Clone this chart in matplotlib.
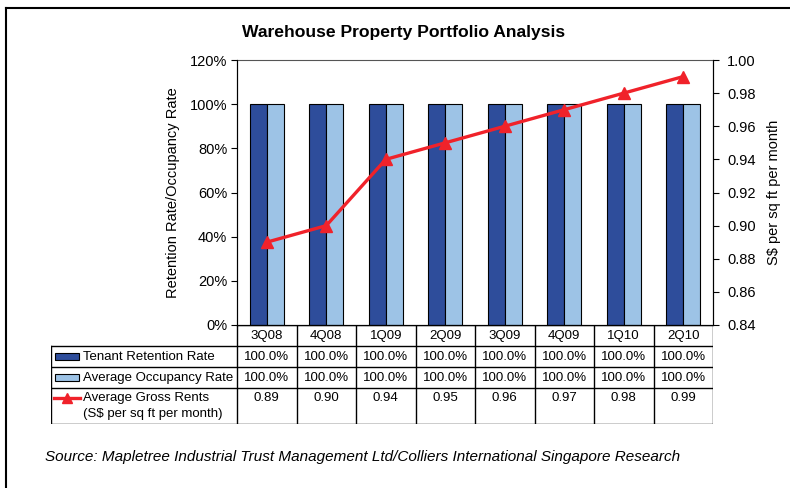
import numpy as np
import matplotlib.pyplot as plt
from matplotlib.lines import Line2D
from matplotlib.patches import Rectangle

plt.rcParams['font.family'] = ['Liberation Sans', 'DejaVu Sans']

quarters = ['3Q08', '4Q08', '1Q09', '2Q09', '3Q09', '4Q09', '1Q10', '2Q10']
retention = [100.0, 100.0, 100.0, 100.0, 100.0, 100.0, 100.0, 100.0]
occupancy = [100.0, 100.0, 100.0, 100.0, 100.0, 100.0, 100.0, 100.0]
rents = [0.89, 0.90, 0.94, 0.95, 0.96, 0.97, 0.98, 0.99]

dark_blue = '#2E4D9B'
light_blue = '#9DC3E6'
red = '#F0222A'

W, H = 790, 488
fig = plt.figure(figsize=(W / 100, H / 100), dpi=100)


def fx(px):
    return px / W


def fy(py):
    return 1 - py / H


# frame around the whole graphic
fig.add_artist(Line2D([fx(6), fx(6)], [fy(8), 0], color='black', lw=1.5))
fig.add_artist(Line2D([fx(6), 1], [fy(8), fy(8)], color='black', lw=1.5))

left, right, top, bottom = 237, 713, 60, 325
ax = fig.add_axes([fx(left), fy(bottom), fx(right - left), fy(top) - fy(bottom)])
x = np.arange(len(quarters))
bw = 0.285
ax.bar(x - bw / 2, retention, bw, color=dark_blue, edgecolor='black', lw=0.8)
ax.bar(x + bw / 2, occupancy, bw, color=light_blue, edgecolor='black', lw=0.8)
ax.set_xlim(-0.5, len(quarters) - 0.5)
ax.set_ylim(0, 120)
ax.set_yticks(np.arange(0, 121, 20))
ax.set_yticklabels([f'{v}%' for v in range(0, 121, 20)])
ax.set_xticks([])
ax.tick_params(axis='y', direction='out', length=4, labelsize=10.5, pad=3)
ax.set_ylabel('Retention Rate/Occupancy Rate', fontsize=10.5, labelpad=7)
for s in ['left', 'right', 'bottom']:
    ax.spines[s].set_color('black')
ax.spines['top'].set_color('#555555')

ax2 = ax.twinx()
ax2.plot(x, rents, color=red, lw=2.4, marker='^', markersize=8,
         markerfacecolor=red, markeredgecolor=red, zorder=5)
ax2.set_ylim(0.84, 1.00)
ax2.set_yticks(np.arange(0.84, 1.001, 0.02))
ax2.set_yticklabels([f'{v:.2f}' for v in np.arange(0.84, 1.001, 0.02)])
ax2.tick_params(axis='y', direction='out', length=4, labelsize=10.5, pad=6)
ax2.set_ylabel('S$ per sq ft per month', fontsize=10.5, labelpad=8)
ax2.spines['top'].set_visible(False)

fig.text(fx(404), fy(32), 'Warehouse Property Portfolio Analysis',
         ha='center', va='center', fontsize=12.6, fontweight='bold')

# data table under the plot
tleft, tbottom = 51, 424
rows_px = [325, 346, 367, 388, 424]
cw = (right - left) / len(quarters)
tab = fig.add_axes([fx(tleft), fy(tbottom), fx(right - tleft), fy(325) - fy(tbottom)])
tab.set_xlim(tleft, right)
tab.set_ylim(tbottom, 325)
tab.axis('off')
lk = dict(color='black', lw=1.0)
# horizontal rules
tab.plot([left, right], [325, 325], **lk)
for ry in rows_px[1:]:
    tab.plot([tleft, right], [ry, ry], **lk)
# vertical rules
tab.plot([tleft, tleft], [346, 424], **lk)
for k in range(len(quarters) + 1):
    xx = left + k * cw
    tab.plot([xx, xx], [325, 424], **lk)

fs = 9.5
for k, q in enumerate(quarters):
    cx = left + (k + 0.5) * cw
    tab.text(cx, 335.5, q, ha='center', va='center', fontsize=fs)
    tab.text(cx, 356.5, f'{retention[k]:.1f}%', ha='center', va='center', fontsize=fs)
    tab.text(cx, 377.5, f'{occupancy[k]:.1f}%', ha='center', va='center', fontsize=fs)
    tab.text(cx, 398, f'{rents[k]:.2f}', ha='center', va='center', fontsize=fs)

tab.add_patch(Rectangle((55, 353), 24, 7, facecolor=dark_blue, edgecolor='black', lw=0.8))
tab.add_patch(Rectangle((55, 374), 24, 7, facecolor=light_blue, edgecolor='black', lw=0.8))
tab.plot([54, 80], [398, 398], color=red, lw=2.4)
tab.plot([67], [398], marker='^', color=red, markersize=7)
tab.text(83, 356.5, 'Tenant Retention Rate', ha='left', va='center', fontsize=fs)
tab.text(83, 377.5, 'Average Occupancy Rate', ha='left', va='center', fontsize=fs)
tab.text(83, 398, 'Average Gross Rents', ha='left', va='center', fontsize=fs)
tab.text(83, 414, '(S$ per sq ft per month)', ha='left', va='center', fontsize=fs)

fig.text(fx(45), fy(457), 'Source: Mapletree Industrial Trust Management Ltd/Colliers International Singapore Research',
         ha='left', va='center', fontsize=11, style='italic')

fig.savefig('out.png', dpi=100)
